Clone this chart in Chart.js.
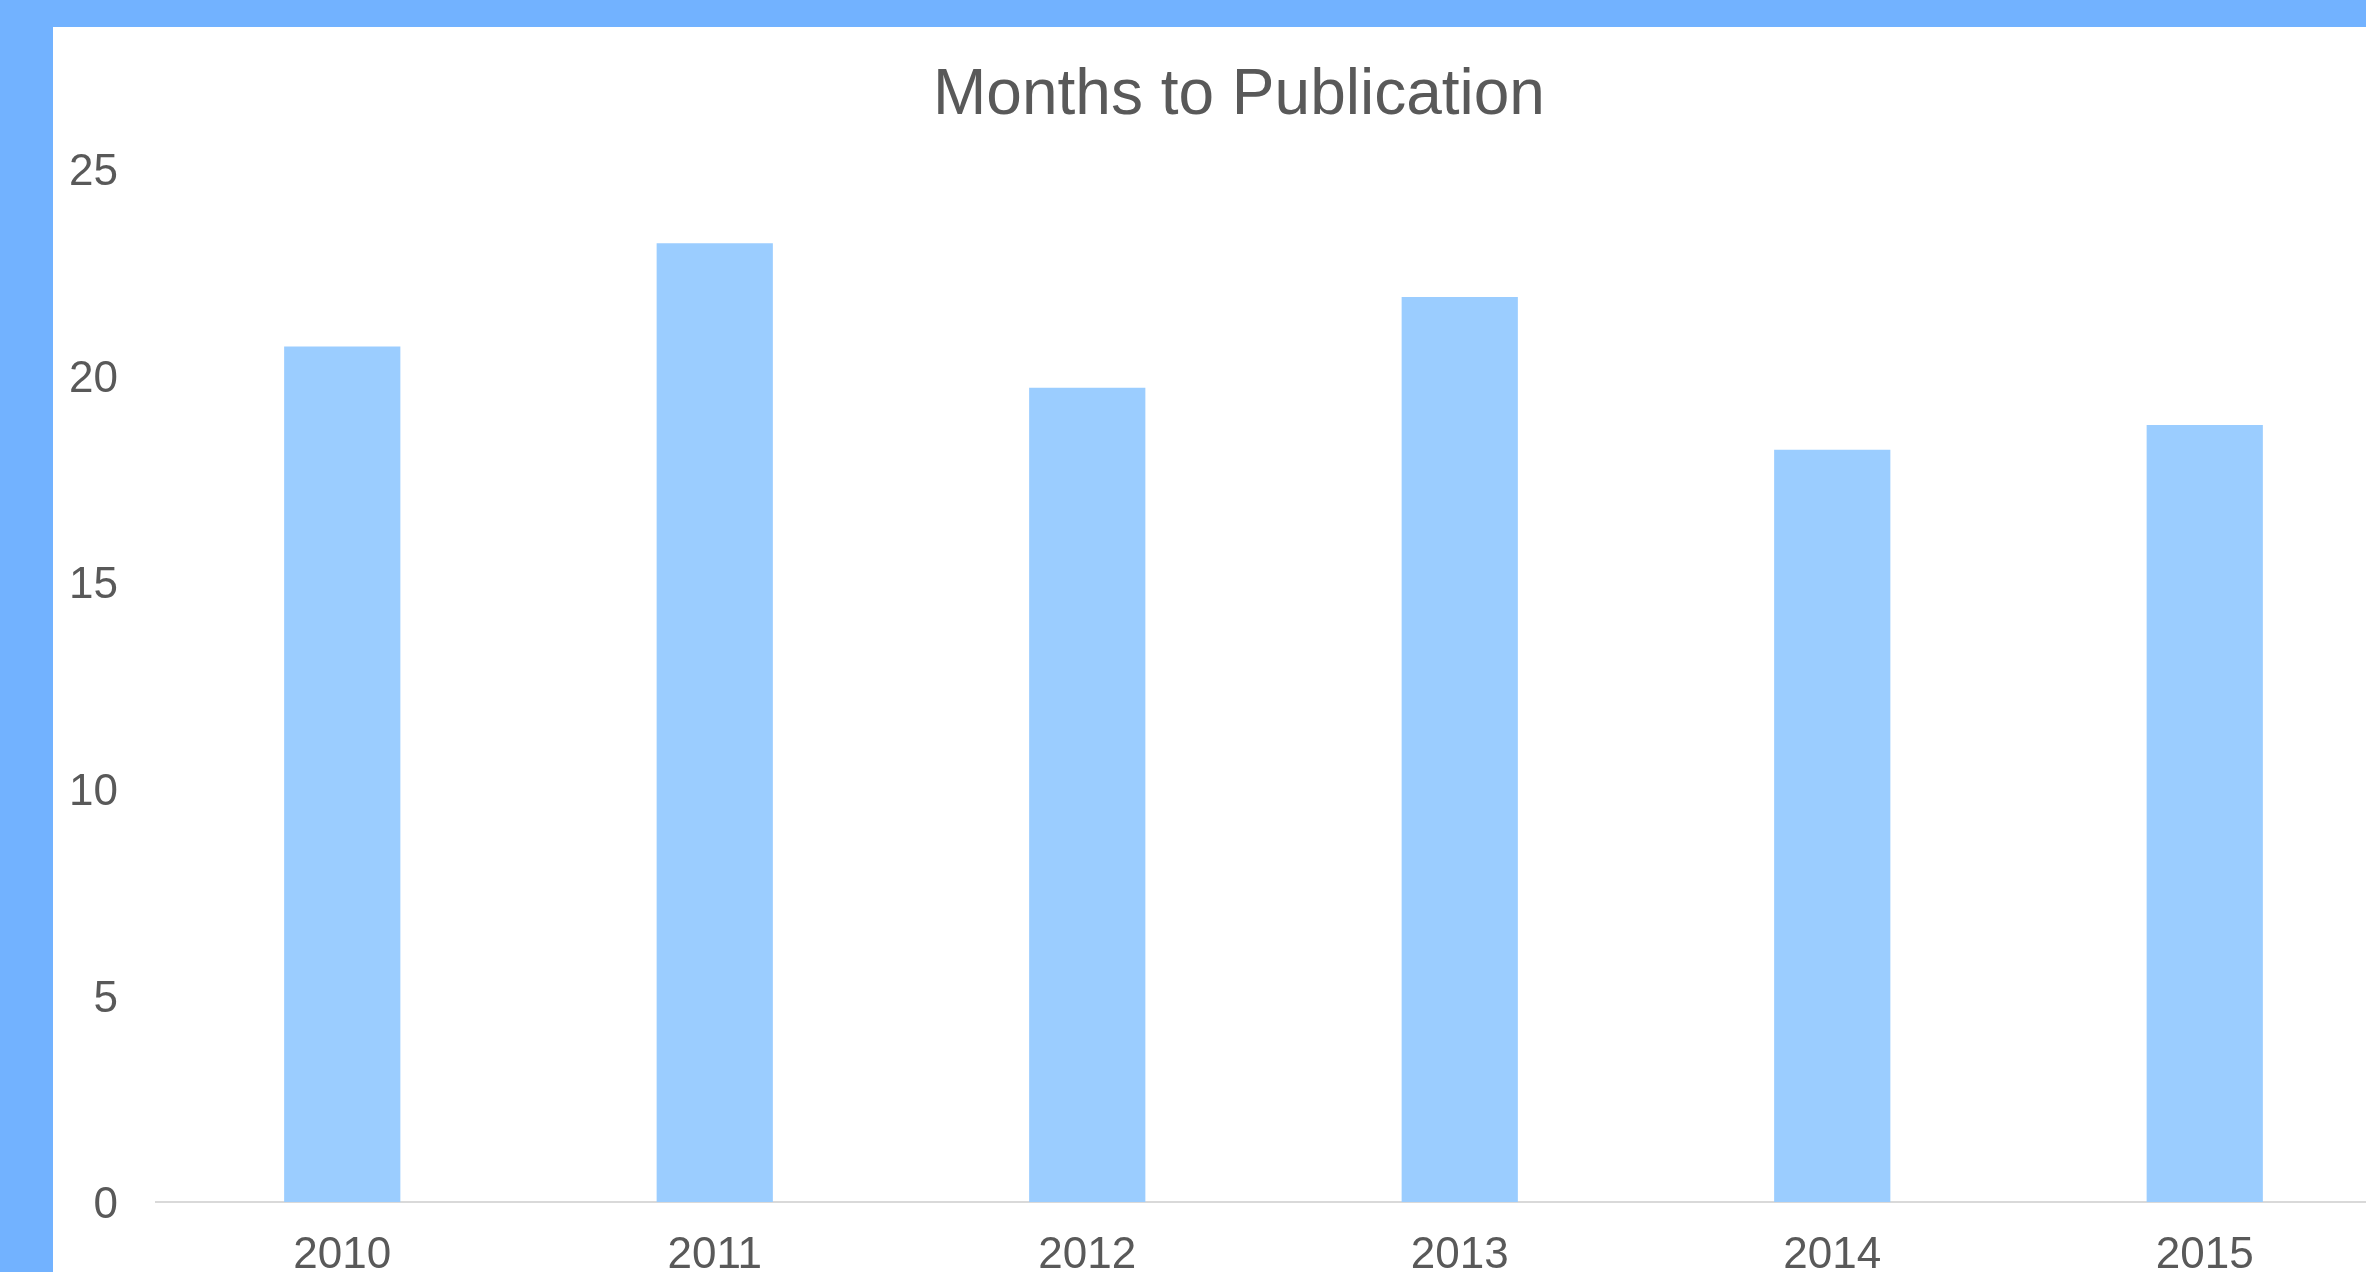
<!DOCTYPE html>
<html>
<head>
<meta charset="utf-8">
<title>Months to Publication</title>
<script src="https://cdn.jsdelivr.net/npm/chart.js@4.4.1/dist/chart.umd.min.js"></script>
<style>
    html, body { margin: 0; padding: 0; }
    body {
        width: 2366px;
        height: 1272px;
        overflow: hidden;
        background: #72b2ff;
        position: relative;
    }
    #panel {
        position: absolute;
        left: 53px;
        top: 27px;
        width: 2400px;
        height: 1300px;
        background: #ffffff;
    }
    #chart-wrap {
        position: absolute;
        left: 0;
        top: 0;
        width: 2372px;
        height: 1245px;
    }
</style>
</head>
<body>
<div id="panel">
    <div id="chart-wrap"><canvas id="pubChart"></canvas></div>
</div>
<script>
const years = ["2010", "2011", "2012", "2013", "2014", "2015"];
const monthsToPublication = [20.7, 23.2, 19.7, 21.9, 18.2, 18.8];
const yTicks = [0, 5, 10, 15, 20, 25];

(function () {
    const canvas = document.getElementById("pubChart");
    if (!canvas) return;

    const textColor = "#595959";
    const fontFamily = "'Liberation Sans', Arial, sans-serif";

    new Chart(canvas.getContext("2d"), {
        type: "bar",
        data: {
            labels: years,
            datasets: [{
                label: "Months to Publication",
                data: monthsToPublication,
                backgroundColor: "#9bcdff",
                borderWidth: 0,
                categoryPercentage: 1,
                barPercentage: 0.312
            }]
        },
        options: {
            responsive: true,
            maintainAspectRatio: false,
            animation: false,
            layout: { padding: 0 },
            plugins: {
                legend: { display: false },
                tooltip: { enabled: false },
                title: {
                    display: true,
                    text: "Months to Publication",
                    color: textColor,
                    font: { family: fontFamily, size: 64, weight: "normal", lineHeight: 1.2 },
                    padding: { top: 31, bottom: 34 }
                }
            },
            scales: {
                x: {
                    grid: { display: false, drawTicks: false },
                    border: { display: true, color: "#d9d9d9", width: 2 },
                    ticks: {
                        color: textColor,
                        font: { family: fontFamily, size: 44 },
                        padding: 27,
                        maxRotation: 0
                    },
                    afterFit: (scale) => { scale.height = 70; }
                },
                y: {
                    min: yTicks[0],
                    max: yTicks[yTicks.length - 1],
                    grid: { display: false, drawTicks: false },
                    border: { display: false },
                    afterBuildTicks: (scale) => {
                        scale.ticks = yTicks.map((v) => ({ value: v }));
                    },
                    ticks: {
                        color: textColor,
                        font: { family: fontFamily, size: 44 },
                        padding: 38,
                        labelOffset: 4
                    },
                    afterFit: (scale) => { scale.width = 103; }
                },
                // empty right axis: reserves space so the title centre sits where the original has it
                yRight: {
                    type: "linear",
                    position: "right",
                    min: 0,
                    max: 25,
                    grid: { display: false, drawTicks: false },
                    border: { display: false },
                    ticks: { display: false },
                    afterFit: (scale) => { scale.width = 34; }
                }
            }
        }
    });
})();
</script>
</body>
</html>
